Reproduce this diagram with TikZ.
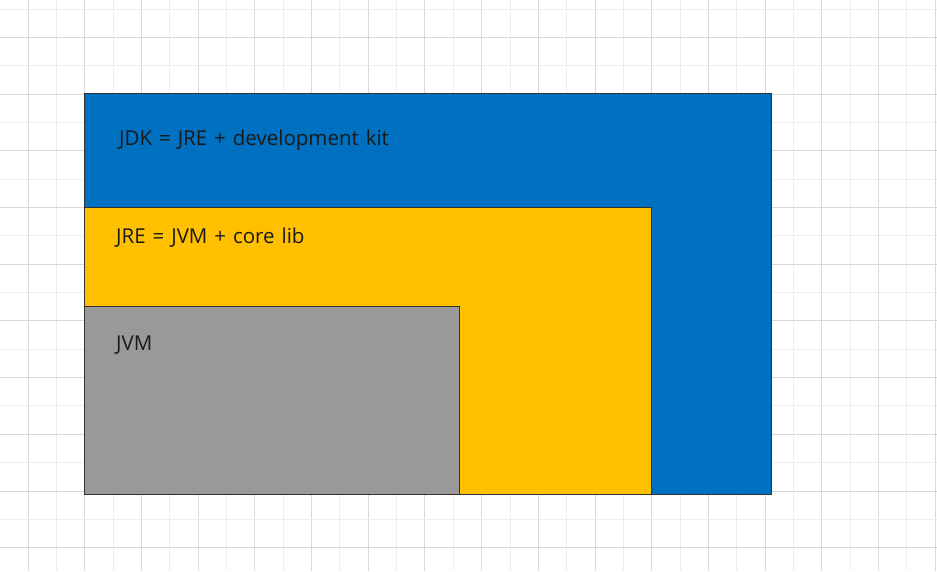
\documentclass[tikz,border=0pt]{standalone}
\usepackage{fontspec}
\setmainfont[WordSpace=1.3]{Open Sans}
\definecolor{jdkblue}{HTML}{0070C0}
\definecolor{jreyellow}{HTML}{FFC000}
\definecolor{jvmgrey}{HTML}{999999}
\definecolor{gridminor}{HTML}{EDEDED}
\definecolor{gridmajor}{HTML}{D9D9D9}
\definecolor{edge}{HTML}{333333}
\definecolor{txt}{HTML}{1A1A1A}
\begin{document}
\begin{tikzpicture}[x=1pt,y=-1pt,
  layer/.style={draw=edge,line width=0.9pt,rectangle,inner sep=0pt,outer sep=0pt},
  lbl/.style={anchor=base west,text=txt,font=\fontsize{20.5}{24}\selectfont,inner sep=0pt}]
\useasboundingbox[fill=white] (0,0) rectangle (937,571);
% grid
\foreach \k in {0,...,32} {
  \pgfmathsetmacro{\xx}{28+28.35*\k}
  \pgfmathtruncatemacro{\odd}{mod(\k,2)}
  \ifnum\odd=0
    \draw[gridmajor,line width=0.9pt] (\xx,0) -- (\xx,571);
  \else
    \draw[gridminor,line width=0.9pt] (\xx,0) -- (\xx,571);
  \fi
}
\foreach \k in {0,...,20} {
  \pgfmathsetmacro{\yy}{9+28.35*\k}
  \pgfmathtruncatemacro{\odd}{mod(\k,2)}
  \ifnum\odd=1
    \draw[gridmajor,line width=0.9pt] (0,\yy) -- (937,\yy);
  \else
    \draw[gridminor,line width=0.9pt] (0,\yy) -- (937,\yy);
  \fi
}
% layers
\draw[layer,fill=jdkblue] (84.5,93.5) rectangle (771.5,494);
\draw[layer,fill=jreyellow] (84.5,207.5) rectangle (651,494);
\draw[layer,fill=jvmgrey] (84.5,306) rectangle (459,494);
\coordinate (jdk) at (119,145);
\coordinate (jre) at (116,243.5);
\coordinate (jvm) at (116,350.5);
\node[lbl] (jdklbl) at (jdk) {JDK = JRE + development kit};
\node[lbl] (jrelbl) at (jre) {JRE = JVM + core lib};
\node[lbl] (jvmlbl) at (jvm) {JVM};
\end{tikzpicture}
\end{document}
